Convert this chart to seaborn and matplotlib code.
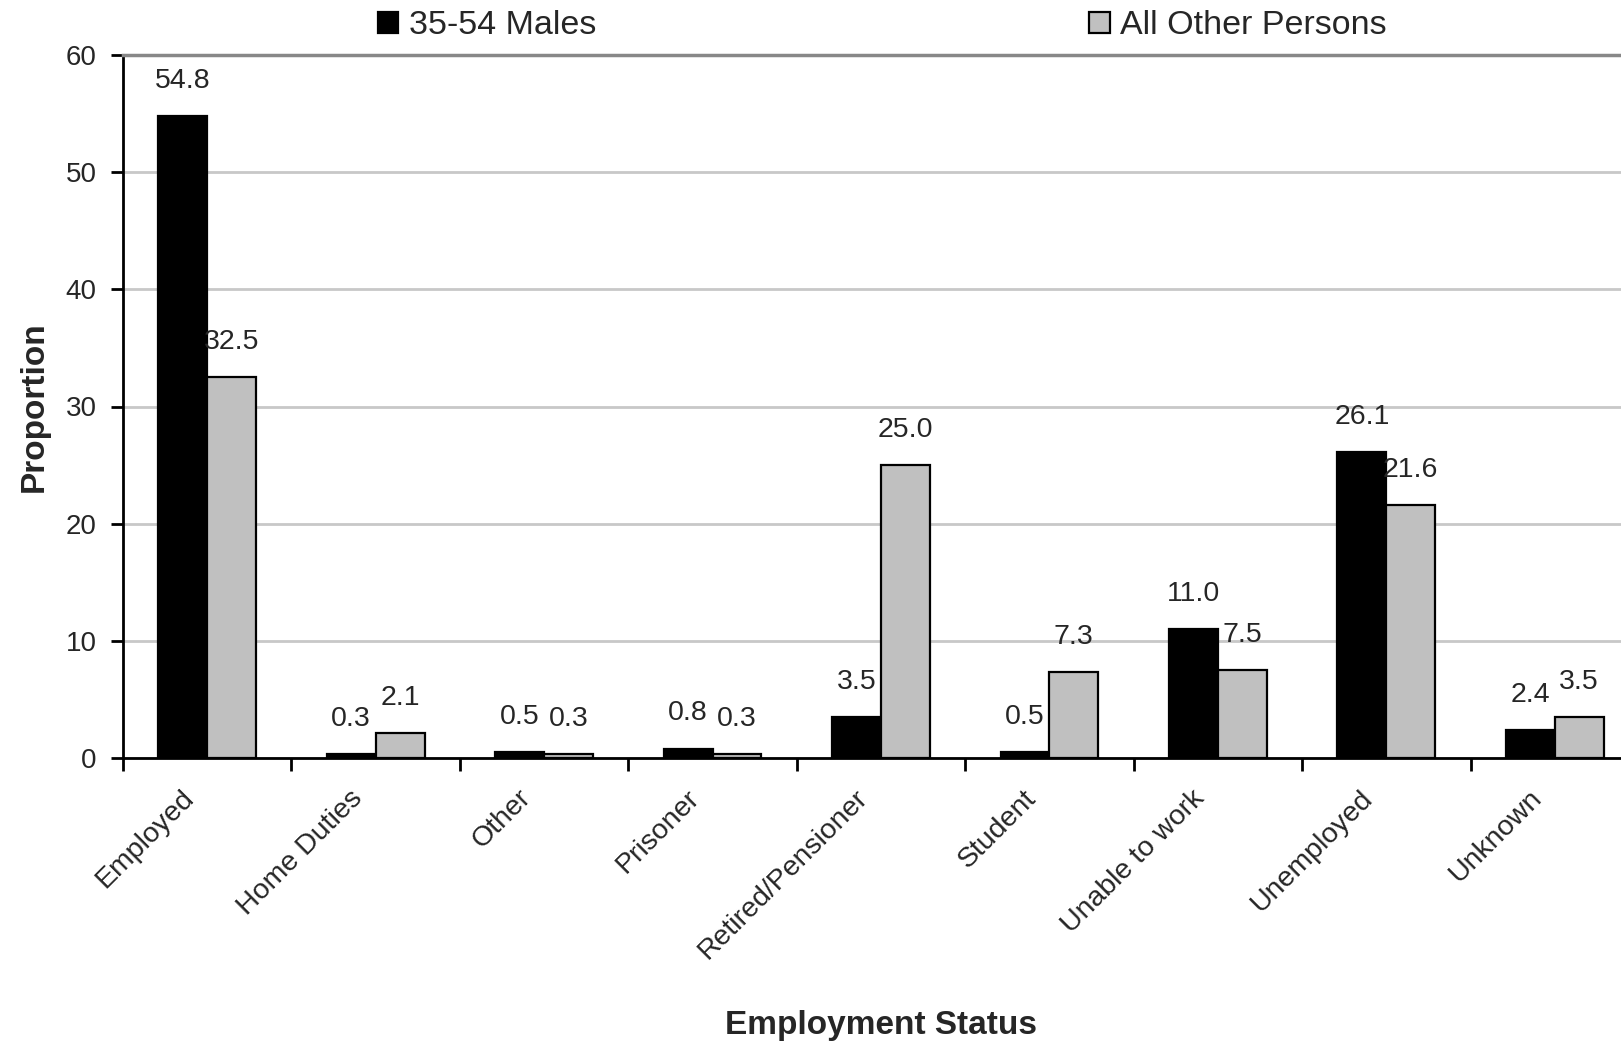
import matplotlib
matplotlib.use("Agg")
import matplotlib.pyplot as plt
import matplotlib.transforms as mtransforms
import numpy as np
import pandas as pd
import seaborn as sns

# Employment status proportions by group
categories = ["Employed", "Home Duties", "Other", "Prisoner", "Retired/Pensioner",
              "Student", "Unable to work", "Unemployed", "Unknown"]
males_35_54 = [54.8, 0.3, 0.5, 0.8, 3.5, 0.5, 11.0, 26.1, 2.4]
all_other = [32.5, 2.1, 0.3, 0.3, 25.0, 7.3, 7.5, 21.6, 3.5]
series_names = ["35-54 Males", "All Other Persons"]
y_ticks = [0, 10, 20, 30, 40, 50, 60]

df = pd.DataFrame({
    "Employment Status": categories * 2,
    "Proportion": males_35_54 + all_other,
    "Group": [series_names[0]] * len(categories) + [series_names[1]] * len(categories),
})

sns.set_theme(style="white")
plt.rcParams["font.family"] = ["Liberation Sans", "DejaVu Sans"]

W, H = 1621, 1043
fig = plt.figure(figsize=(W / 100, H / 100), dpi=100)
ax_left, ax_right, ax_top, ax_bottom = 123, 1639, 55, 758
ax = fig.add_axes([ax_left / W, 1 - ax_bottom / H, (ax_right - ax_left) / W, (ax_bottom - ax_top) / H])

sns.barplot(data=df, x="Employment Status", y="Proportion", hue="Group",
            hue_order=series_names, palette=["black", "#c0c0c0"], width=0.58,
            edgecolor="black", linewidth=1.6, errorbar=None, ax=ax)

ax.set_xlim(-0.5, len(categories) - 0.5)
ax.set_ylim(0, 60)
ax.set_yticks(y_ticks)
ax.yaxis.grid(True, color="#c8c8c8", linewidth=2)
ax.set_axisbelow(True)

for side in ["left", "bottom"]:
    ax.spines[side].set_color("black")
    ax.spines[side].set_linewidth(2)
ax.spines["top"].set_color("#888888")
ax.spines["top"].set_linewidth(2.5)
ax.spines["right"].set_visible(False)

# value labels above each bar
for container, values in zip(ax.containers, [males_35_54, all_other]):
    ax.bar_label(container, labels=[f"{v:.1f}" for v in values], padding=16, fontsize=20.5)

# y axis ticks
ax.tick_params(axis="y", left=True, length=9, width=2, color="black", labelsize=20, pad=10)

# x axis: tick marks on category boundaries, labels at centres
ax.set_xticks(np.arange(-0.5, len(categories), 1), minor=True)
ax.tick_params(axis="x", which="minor", bottom=True, length=9, width=2, color="black")
ax.tick_params(axis="x", which="major", bottom=True, length=0, pad=26)
ax.set_xticks(range(len(categories)))
ax.set_xticklabels(categories, rotation=45, ha="right", va="center",
                   rotation_mode="anchor", fontsize=20.5)
shift = mtransforms.ScaledTranslation(-17 / 100, 0, fig.dpi_scale_trans)
for lbl in ax.get_xticklabels():
    lbl.set_transform(lbl.get_transform() + shift)

ax.set_xlabel("Employment Status", fontsize=24, fontweight="bold")
ax.xaxis.set_label_coords(0.5, -0.38)
ax.xaxis.label.set_va("center")
ax.set_ylabel("Proportion", fontsize=24, fontweight="bold")
ax.yaxis.set_label_coords(-0.0584, 0.5)
ax.yaxis.label.set_va("center")

sns.move_legend(ax, "center left", bbox_to_anchor=(378 / W, 1 - 26 / H),
                bbox_transform=fig.transFigure, ncol=2, frameon=False, title=None,
                fontsize=24.5, handlelength=0.6, handleheight=0.6, handletextpad=0.3,
                columnspacing=14.5, borderpad=0, borderaxespad=0)

fig.savefig("out.png", dpi=100)
